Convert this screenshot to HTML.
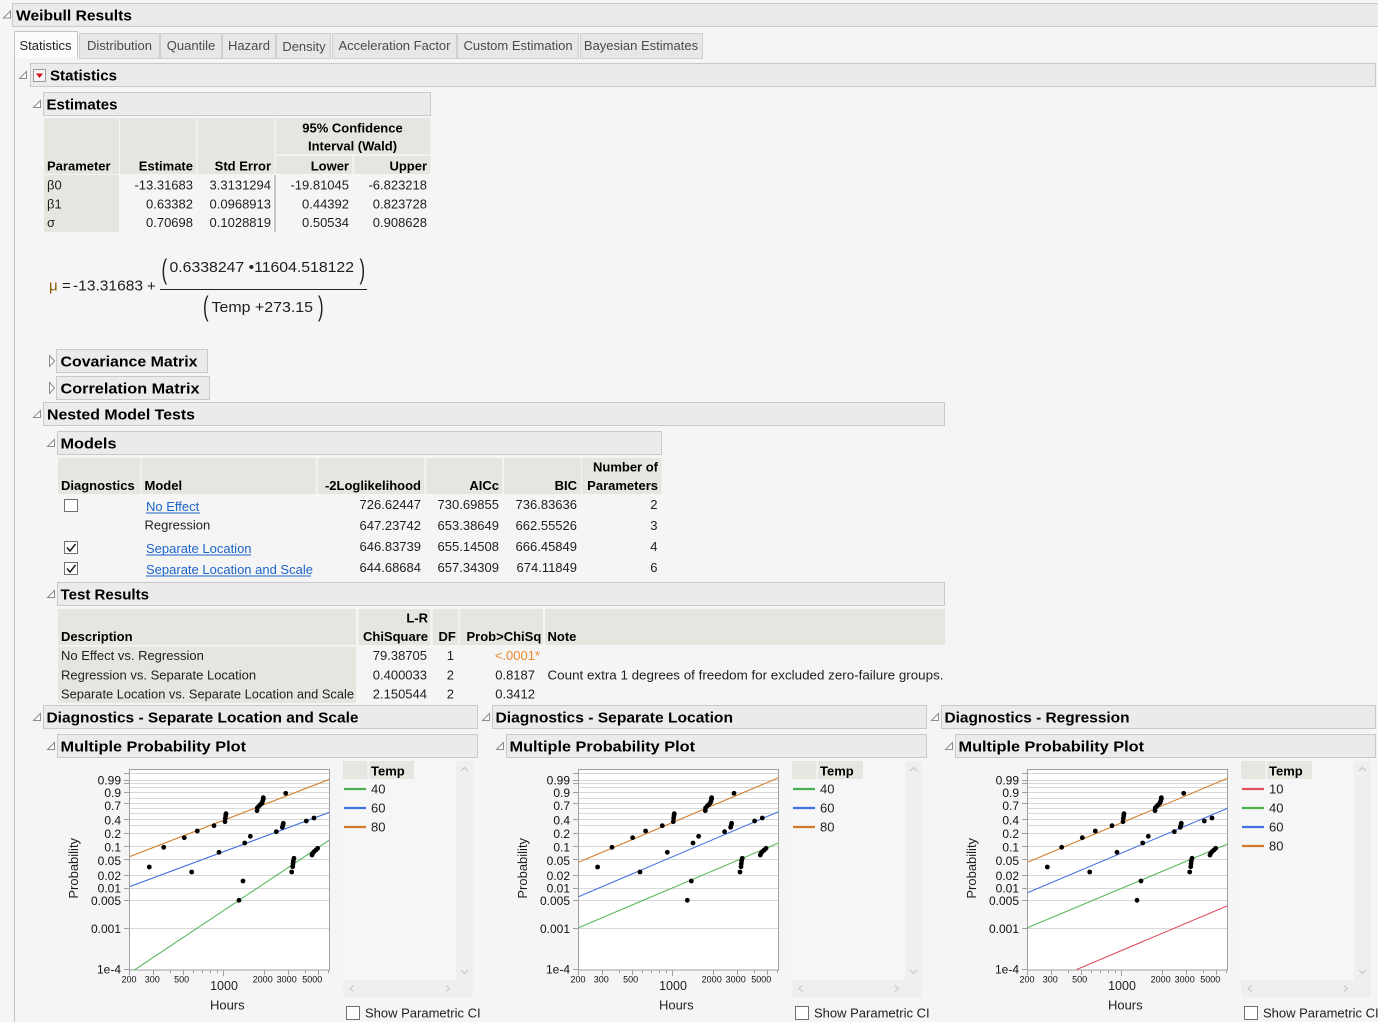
<!DOCTYPE html>
<html><head><meta charset="utf-8">
<style>
html,body{margin:0;padding:0;background:#f5f5f5;}
svg{display:block;}
text{font-family:"Liberation Sans",Arial,sans-serif;fill:#1e1e1e;}
.h{font-weight:bold;font-size:15px;fill:#000;}
.b{font-weight:bold;font-size:13px;fill:#000;}
.t{font-size:13px;}
.tab{font-size:13px;fill:#4a4a4a;text-anchor:middle;}
.e{text-anchor:end;}
.m{text-anchor:middle;}
.hdr{fill:#ebebeb;stroke:#c9c9c9;}
.th{fill:#e6e6e1;}
.tri{fill:#fff;stroke:#8c8c8c;}
.lnk{font-size:13px;fill:#1c64c8;}
.yl{font-size:12px;text-anchor:end;fill:#111;}
.xl{font-size:9px;text-anchor:middle;fill:#111;}
</style></head><body>
<svg width="1378" height="1022" viewBox="0 0 1378 1022" xmlns="http://www.w3.org/2000/svg">
<defs>
<clipPath id="c1"><rect x="130" y="770" width="199" height="200"/></clipPath>
<clipPath id="c2"><rect x="579" y="770" width="199" height="200"/></clipPath>
<clipPath id="c3"><rect x="1028" y="770" width="199" height="200"/></clipPath>
</defs>
<rect width="1378" height="1022" fill="#f5f5f5"/>

<!-- Weibull Results header -->
<rect class="hdr" x="12.5" y="3.5" width="1366" height="23"/>
<polygon class="tri" points="3.5,18 10.5,18 10.5,11"/>
<text class="h" x="16" y="20.5" textLength="116" lengthAdjust="spacingAndGlyphs">Weibull Results</text>

<!-- tabs -->
<line x1="14.5" y1="58" x2="14.5" y2="1022" stroke="#c4c4c4"/>
<rect x="79.5" y="33.5" width="80" height="25" fill="#e7e7e7" stroke="#cfcfcf"/>
<rect x="160.5" y="33.5" width="61" height="25" fill="#e7e7e7" stroke="#cfcfcf"/>
<rect x="222.5" y="33.5" width="53" height="25" fill="#e7e7e7" stroke="#cfcfcf"/>
<rect x="276.5" y="33.5" width="54" height="25" fill="#e7e7e7" stroke="#cfcfcf"/>
<rect x="332.5" y="33.5" width="124" height="25" fill="#e7e7e7" stroke="#cfcfcf"/>
<rect x="457.5" y="33.5" width="121" height="25" fill="#e7e7e7" stroke="#cfcfcf"/>
<rect x="580.5" y="33.5" width="122" height="25" fill="#e7e7e7" stroke="#cfcfcf"/>
<path d="M14.5,58.5 V31.5 H77.5 V58.5" fill="#fbfbfb" stroke="#c4c4c4"/>
<text class="tab" x="45.5" y="50" style="fill:#222">Statistics</text>
<text class="tab" x="119.5" y="50">Distribution</text>
<text class="tab" x="191" y="50">Quantile</text>
<text class="tab" x="249" y="50">Hazard</text>
<text class="tab" x="304" y="51">Density</text>
<text class="tab" x="394.5" y="50">Acceleration Factor</text>
<text class="tab" x="518" y="50">Custom Estimation</text>
<text class="tab" x="641" y="50">Bayesian Estimates</text>

<!-- Statistics -->
<rect class="hdr" x="30.5" y="63.5" width="1345" height="23"/>
<polygon class="tri" points="19.5,78.5 26.5,78.5 26.5,71.5"/>
<rect x="33.5" y="69.5" width="12" height="12" fill="#f6f6f6" stroke="#9a9a9a"/>
<polygon points="36,73.5 43,73.5 39.5,78" fill="#d0101a"/>
<text class="h" x="50" y="80.5" textLength="67" lengthAdjust="spacingAndGlyphs">Statistics</text>

<!-- Estimates -->
<rect class="hdr" x="43.5" y="92.5" width="387" height="23"/>
<polygon class="tri" points="33.5,107.5 40.5,107.5 40.5,100.5"/>
<text class="h" x="46.5" y="109.5" textLength="71" lengthAdjust="spacingAndGlyphs">Estimates</text>

<rect class="th" x="44" y="118" width="75" height="56"/>
<rect class="th" x="44" y="175" width="75" height="57"/>
<rect class="th" x="120" y="118" width="76.5" height="56"/>
<rect class="th" x="197.5" y="118" width="77" height="56"/>
<rect class="th" x="275.5" y="118" width="155" height="36.5"/>
<rect class="th" x="275.5" y="156" width="77" height="18"/>
<rect class="th" x="354" y="156" width="76.5" height="18"/>
<line x1="275" y1="175" x2="275" y2="232" stroke="#9a9a9a"/>
<text class="b" x="47" y="170.5">Parameter</text>
<text class="b e" x="193" y="170.5">Estimate</text>
<text class="b e" x="271" y="170.5">Std Error</text>
<text class="b m" x="352.5" y="132.5">95% Confidence</text>
<text class="b m" x="352.5" y="150.5">Interval (Wald)</text>
<text class="b e" x="349" y="170.5">Lower</text>
<text class="b e" x="427" y="170.5">Upper</text>
<g class="t">
<text x="47" y="189.5">β0</text><text x="47" y="208.5">β1</text><text x="47" y="227">σ</text>
<text class="e" x="193" y="189.5">-13.31683</text><text class="e" x="193" y="208.5">0.63382</text><text class="e" x="193" y="227">0.70698</text>
<text class="e" x="271" y="189.5">3.3131294</text><text class="e" x="271" y="208.5">0.0968913</text><text class="e" x="271" y="227">0.1028819</text>
<text class="e" x="349" y="189.5">-19.81045</text><text class="e" x="349" y="208.5">0.44392</text><text class="e" x="349" y="227">0.50534</text>
<text class="e" x="427" y="189.5">-6.823218</text><text class="e" x="427" y="208.5">0.823728</text><text class="e" x="427" y="227">0.908628</text>
</g>

<!-- Formula -->
<g style="font-size:15px">
<text x="49" y="290.5" style="font-size:15px;fill:#8a5a00">μ</text>
<text x="62" y="290.5" style="font-size:15px">=</text>
<text x="73" y="290.5" style="font-size:15px" textLength="70" lengthAdjust="spacingAndGlyphs">-13.31683</text>
<text x="147" y="291" style="font-size:15px">+</text>
<line x1="160" y1="289.5" x2="367" y2="289.5" stroke="#222"/>
<text transform="translate(161.5,278.5) scale(0.6,1)" style="font-size:28px">(</text>
<text x="169.5" y="272" style="font-size:15px" textLength="184.5" lengthAdjust="spacingAndGlyphs">0.6338247 •11604.518122</text>
<text transform="translate(359.5,278.5) scale(0.6,1)" style="font-size:28px">)</text>
<text transform="translate(203,315.5) scale(0.6,1)" style="font-size:28px">(</text>
<text x="211.5" y="312" style="font-size:15px" textLength="101.5" lengthAdjust="spacingAndGlyphs">Temp +273.15</text>
<text transform="translate(318,315.5) scale(0.6,1)" style="font-size:28px">)</text>
</g>

<!-- Covariance / Correlation -->
<rect class="hdr" x="56.5" y="349.5" width="151" height="23"/>
<polygon class="tri" points="49.5,355.5 54.5,361 49.5,366.5"/>
<text class="h" x="60.5" y="366.5" textLength="137" lengthAdjust="spacingAndGlyphs">Covariance Matrix</text>
<rect class="hdr" x="56.5" y="376.5" width="153" height="23"/>
<polygon class="tri" points="49.5,382.5 54.5,388 49.5,393.5"/>
<text class="h" x="60.5" y="393.5" textLength="139" lengthAdjust="spacingAndGlyphs">Correlation Matrix</text>

<!-- Nested Model Tests -->
<rect class="hdr" x="43.5" y="402.5" width="901" height="23"/>
<polygon class="tri" points="33.5,417.5 40.5,417.5 40.5,410.5"/>
<text class="h" x="47" y="419.5" textLength="148" lengthAdjust="spacingAndGlyphs">Nested Model Tests</text>

<!-- Models -->
<rect class="hdr" x="57.5" y="431.5" width="604" height="23"/>
<polygon class="tri" points="47.5,446.5 54.5,446.5 54.5,439.5"/>
<text class="h" x="60.5" y="448.5" textLength="56" lengthAdjust="spacingAndGlyphs">Models</text>
<rect class="th" x="58" y="458" width="82.5" height="36"/>
<rect class="th" x="141.5" y="458" width="174.5" height="36"/>
<rect class="th" x="317.5" y="458" width="107" height="36"/>
<rect class="th" x="426" y="458" width="76.5" height="36"/>
<rect class="th" x="504" y="458" width="77" height="36"/>
<rect class="th" x="582" y="458" width="79.5" height="36"/>
<text class="b" x="61" y="490">Diagnostics</text>
<text class="b" x="144.5" y="490">Model</text>
<text class="b e" x="421" y="490">-2Loglikelihood</text>
<text class="b e" x="499" y="490">AICc</text>
<text class="b e" x="577" y="490">BIC</text>
<text class="b e" x="658" y="471.5">Number of</text>
<text class="b e" x="658" y="490">Parameters</text>
<rect x="64.5" y="499.5" width="13" height="12" fill="#fff" stroke="#707070"/>
<rect x="64.5" y="541.5" width="13" height="12" fill="#fff" stroke="#707070"/>
<path d="M67,547.5 L70,551 L75.5,544" fill="none" stroke="#222" stroke-width="1.6"/>
<rect x="64.5" y="562.5" width="13" height="12" fill="#fff" stroke="#707070"/>
<path d="M67,568.5 L70,572 L75.5,565" fill="none" stroke="#222" stroke-width="1.6"/>
<text class="lnk" x="146" y="511">No Effect</text>
<line x1="146" y1="513" x2="200" y2="513" stroke="#1c64c8"/>
<text class="t" x="144.5" y="529.5">Regression</text>
<text class="lnk" x="146" y="553">Separate Location</text>
<line x1="146" y1="555" x2="251" y2="555" stroke="#1c64c8"/>
<text class="lnk" x="146" y="574">Separate Location and Scale</text>
<line x1="146" y1="576" x2="311" y2="576" stroke="#1c64c8"/>
<g class="t">
<text class="e" x="421" y="509">726.62447</text><text class="e" x="421" y="530">647.23742</text><text class="e" x="421" y="551">646.83739</text><text class="e" x="421" y="572">644.68684</text>
<text class="e" x="499" y="509">730.69855</text><text class="e" x="499" y="530">653.38649</text><text class="e" x="499" y="551">655.14508</text><text class="e" x="499" y="572">657.34309</text>
<text class="e" x="577" y="509">736.83636</text><text class="e" x="577" y="530">662.55526</text><text class="e" x="577" y="551">666.45849</text><text class="e" x="577" y="572">674.11849</text>
<text class="e" x="657.5" y="509">2</text><text class="e" x="657.5" y="530">3</text><text class="e" x="657.5" y="551">4</text><text class="e" x="657.5" y="572">6</text>
</g>

<!-- Test Results -->
<rect class="hdr" x="57.5" y="582.5" width="887" height="23"/>
<polygon class="tri" points="47.5,597.5 54.5,597.5 54.5,590.5"/>
<text class="h" x="60.5" y="599.5" textLength="88.5" lengthAdjust="spacingAndGlyphs">Test Results</text>
<rect class="th" x="58" y="609" width="298" height="36"/>
<rect class="th" x="58" y="646.5" width="298" height="56.5"/>
<rect class="th" x="358.5" y="609" width="72" height="36"/>
<rect class="th" x="432.5" y="609" width="26" height="36"/>
<rect class="th" x="460" y="609" width="83" height="36"/>
<rect class="th" x="545" y="609" width="400" height="36"/>
<text class="b" x="61" y="641">Description</text>
<text class="b e" x="428" y="622.5">L-R</text>
<text class="b e" x="428" y="641">ChiSquare</text>
<text class="b" x="438.5" y="641">DF</text>
<text class="b" x="466.5" y="641">Prob&gt;ChiSq</text>
<text class="b" x="547.5" y="641">Note</text>
<g class="t">
<text x="61" y="660">No Effect vs. Regression</text>
<text x="61" y="679.5">Regression vs. Separate Location</text>
<text x="61" y="698.5" textLength="293" lengthAdjust="spacingAndGlyphs">Separate Location vs. Separate Location and Scale</text>
<text class="e" x="427" y="660">79.38705</text><text class="e" x="427" y="679.5">0.400033</text><text class="e" x="427" y="698.5">2.150544</text>
<text class="e" x="454" y="660">1</text><text class="e" x="454" y="679.5">2</text><text class="e" x="454" y="698.5">2</text>
<text class="e" x="540" y="660" style="fill:#ee8a2e">&lt;.0001*</text>
<text class="e" x="535" y="679.5">0.8187</text><text class="e" x="535" y="698.5">0.3412</text>
<text x="547.5" y="679.5" textLength="396" lengthAdjust="spacingAndGlyphs">Count extra 1 degrees of freedom for excluded zero-failure groups.</text>
</g>

<!-- Diagnostics headers -->
<rect class="hdr" x="43.5" y="705.5" width="434" height="23"/>
<polygon class="tri" points="33.5,720.5 40.5,720.5 40.5,713.5"/>
<text class="h" x="46.5" y="722.5" textLength="312" lengthAdjust="spacingAndGlyphs">Diagnostics - Separate Location and Scale</text>
<rect class="hdr" x="492.5" y="705.5" width="434" height="23"/>
<polygon class="tri" points="482.5,720.5 489.5,720.5 489.5,713.5"/>
<text class="h" x="495.5" y="722.5" textLength="237.5" lengthAdjust="spacingAndGlyphs">Diagnostics - Separate Location</text>
<rect class="hdr" x="941.5" y="705.5" width="434" height="23"/>
<polygon class="tri" points="931.5,720.5 938.5,720.5 938.5,713.5"/>
<text class="h" x="944.5" y="722.5" textLength="185" lengthAdjust="spacingAndGlyphs">Diagnostics - Regression</text>

<rect class="hdr" x="57.5" y="734.5" width="420" height="23"/>
<polygon class="tri" points="47.5,749.5 54.5,749.5 54.5,742.5"/>
<text class="h" x="60.5" y="751.5" textLength="185.5" lengthAdjust="spacingAndGlyphs">Multiple Probability Plot</text>
<rect class="hdr" x="506.5" y="734.5" width="420" height="23"/>
<polygon class="tri" points="496.5,749.5 503.5,749.5 503.5,742.5"/>
<text class="h" x="509.5" y="751.5" textLength="185.5" lengthAdjust="spacingAndGlyphs">Multiple Probability Plot</text>
<rect class="hdr" x="955.5" y="734.5" width="420" height="23"/>
<polygon class="tri" points="945.5,749.5 952.5,749.5 952.5,742.5"/>
<text class="h" x="958.5" y="751.5" textLength="185.5" lengthAdjust="spacingAndGlyphs">Multiple Probability Plot</text>

<!-- ========== PLOT 1 ========== -->
<g>
<rect x="129.5" y="769.5" width="200" height="200.5" fill="#fff"/>
<g stroke="#d8d8d8">
<line x1="130" x2="329" y1="773.5" y2="773.5"/><line x1="130" x2="329" y1="780.5" y2="780.5"/><line x1="130" x2="329" y1="783.5" y2="783.5"/><line x1="130" x2="329" y1="787.5" y2="787.5"/><line x1="130" x2="329" y1="792.5" y2="792.5"/><line x1="130" x2="329" y1="798.5" y2="798.5"/><line x1="130" x2="329" y1="803.5" y2="803.5"/><line x1="130" x2="329" y1="808.5" y2="808.5"/><line x1="130" x2="329" y1="813.5" y2="813.5"/><line x1="130" x2="329" y1="819.5" y2="819.5"/><line x1="130" x2="329" y1="825.5" y2="825.5"/><line x1="130" x2="329" y1="833.5" y2="833.5"/><line x1="130" x2="329" y1="846.5" y2="846.5"/><line x1="130" x2="329" y1="859.5" y2="859.5"/><line x1="130" x2="329" y1="875.5" y2="875.5"/><line x1="130" x2="329" y1="888.5" y2="888.5"/><line x1="130" x2="329" y1="900.5" y2="900.5"/><line x1="130" x2="329" y1="928.5" y2="928.5"/>
</g>
<g stroke="#a0a0a0">
<line x1="124" x2="129.5" y1="773.5" y2="773.5"/><line x1="124" x2="129.5" y1="780.5" y2="780.5"/><line x1="124" x2="129.5" y1="783.5" y2="783.5"/><line x1="124" x2="129.5" y1="792.5" y2="792.5"/><line x1="124" x2="129.5" y1="803.5" y2="803.5"/><line x1="124" x2="129.5" y1="819.5" y2="819.5"/><line x1="124" x2="129.5" y1="833.5" y2="833.5"/><line x1="124" x2="129.5" y1="846.5" y2="846.5"/><line x1="124" x2="129.5" y1="859.5" y2="859.5"/><line x1="124" x2="129.5" y1="875.5" y2="875.5"/><line x1="124" x2="129.5" y1="888.5" y2="888.5"/><line x1="124" x2="129.5" y1="900.5" y2="900.5"/><line x1="124" x2="129.5" y1="928.5" y2="928.5"/><line x1="124" x2="129.5" y1="969.5" y2="969.5"/>
<line x1="129.5" x2="129.5" y1="970" y2="975"/><line x1="153.5" x2="153.5" y1="970" y2="975"/><line x1="170.5" x2="170.5" y1="970" y2="973"/><line x1="183.5" x2="183.5" y1="970" y2="975"/><line x1="193.5" x2="193.5" y1="970" y2="973"/><line x1="202.5" x2="202.5" y1="970" y2="973"/><line x1="210.5" x2="210.5" y1="970" y2="973"/><line x1="217.5" x2="217.5" y1="970" y2="973"/><line x1="223.5" x2="223.5" y1="970" y2="976"/><line x1="264.5" x2="264.5" y1="970" y2="975"/><line x1="288.5" x2="288.5" y1="970" y2="975"/><line x1="305.5" x2="305.5" y1="970" y2="973"/><line x1="318.5" x2="318.5" y1="970" y2="975"/><line x1="328.5" x2="328.5" y1="970" y2="973"/>
</g>
<rect x="129.5" y="769.5" width="200" height="200.5" fill="none" stroke="#a0a0a0"/>
<g clip-path="url(#c1)" stroke-width="1.1">
<line x1="129.5" y1="856.7" x2="329.5" y2="779.3" stroke="#d5812f"/>
<line x1="129.5" y1="886.7" x2="329.5" y2="812.3" stroke="#4a72e0"/>
<line x1="129.5" y1="973.2" x2="329.5" y2="840" stroke="#5cb85c"/>
</g>
<g id="pts" fill="#000">
<circle cx="149.3" cy="867" r="2.4"/><circle cx="163.7" cy="847.3" r="2.4"/><circle cx="184.3" cy="837.7" r="2.4"/><circle cx="197.3" cy="831" r="2.4"/><circle cx="214" cy="825.7" r="2.4"/><circle cx="225" cy="821.7" r="2.4"/><circle cx="225.3" cy="818.3" r="2.4"/><circle cx="225.7" cy="815.7" r="2.4"/><circle cx="226" cy="813.7" r="2.4"/><circle cx="257" cy="810.7" r="2.4"/><circle cx="257.3" cy="808" r="2.4"/><circle cx="258.7" cy="806.3" r="2.4"/><circle cx="260.3" cy="804.7" r="2.4"/><circle cx="262" cy="803" r="2.4"/><circle cx="262.7" cy="801" r="2.4"/><circle cx="263.3" cy="799" r="2.4"/><circle cx="263.3" cy="797.7" r="2.4"/><circle cx="285.7" cy="793.3" r="2.4"/>
<circle cx="191.7" cy="872" r="2.4"/><circle cx="219" cy="852.3" r="2.4"/><circle cx="244.7" cy="843" r="2.4"/><circle cx="250.3" cy="836.3" r="2.4"/><circle cx="276.3" cy="831.7" r="2.4"/><circle cx="282.3" cy="827.3" r="2.4"/><circle cx="283" cy="825" r="2.4"/><circle cx="283.3" cy="823.3" r="2.4"/><circle cx="306.3" cy="821" r="2.4"/><circle cx="314" cy="818" r="2.4"/>
<circle cx="239" cy="900.3" r="2.4"/><circle cx="243" cy="881" r="2.4"/><circle cx="291.7" cy="872" r="2.4"/><circle cx="292.7" cy="866.7" r="2.4"/><circle cx="293" cy="863.7" r="2.4"/><circle cx="293.3" cy="861" r="2.4"/><circle cx="294" cy="858.3" r="2.4"/><circle cx="312" cy="855" r="2.4"/><circle cx="312.7" cy="853.3" r="2.4"/><circle cx="314" cy="851.7" r="2.4"/><circle cx="316" cy="850" r="2.4"/><circle cx="317.7" cy="848.3" r="2.4"/>
</g>
<text class="yl" x="121" y="784.5">0.99</text><text class="yl" x="121" y="797">0.9</text><text class="yl" x="121" y="810">0.7</text><text class="yl" x="121" y="824.5">0.4</text><text class="yl" x="121" y="838">0.2</text><text class="yl" x="121" y="851.5">0.1</text><text class="yl" x="121" y="865">0.05</text><text class="yl" x="121" y="880">0.02</text><text class="yl" x="121" y="892.5">0.01</text><text class="yl" x="121" y="905">0.005</text><text class="yl" x="121" y="933">0.001</text><text class="yl" x="121" y="973.5">1e-4</text>
<text class="xl" x="129" y="982.5">200</text><text class="xl" x="152.3" y="982.5">300</text><text class="xl" x="181.7" y="982.5">500</text><text class="xl" x="262.7" y="982.5">2000</text><text class="xl" x="286.7" y="982.5">3000</text><text class="xl" x="312.3" y="982.5">5000</text>
<text class="m" x="224" y="990" style="font-size:12.5px">1000</text>
<text class="m t" x="227.3" y="1009.5">Hours</text>
<text class="m t" transform="translate(77.8,868.3) rotate(-90)">Probability</text>
<!-- legend -->
<rect x="342.5" y="760.5" width="131" height="236.5" fill="#f6f6f6"/>
<rect x="456" y="761" width="17" height="219" fill="#efefef"/>
<rect x="343" y="980" width="130" height="17" fill="#efefef"/>
<path d="M461,771 L464.5,767.5 L468,771 M461,970 L464.5,973.5 L468,970 M353.5,985.5 L350,988.5 L353.5,991.5 M446,985.5 L449.5,988.5 L446,991.5" fill="none" stroke="#c4c4c4"/>
<rect class="th" x="343" y="761" width="24.5" height="18"/>
<rect class="th" x="369" y="761" width="45" height="18"/>
<text class="b" x="371" y="775.5">Temp</text>
<line x1="344" y1="789" x2="366" y2="789" stroke="#4caf50" stroke-width="2.2"/>
<line x1="344" y1="808" x2="366" y2="808" stroke="#3f6fe0" stroke-width="2.2"/>
<line x1="344" y1="827" x2="366" y2="827" stroke="#d27a2a" stroke-width="2.2"/>
<text class="t" x="371" y="793.5">40</text><text class="t" x="371" y="812.5">60</text><text class="t" x="371" y="831.5">80</text>
<rect x="346.5" y="1006.5" width="13" height="13" fill="#fff" stroke="#707070"/>
<text class="t" x="365" y="1017.5">Show Parametric CI</text>
</g>

<!-- ========== PLOT 2 ========== -->
<g transform="translate(449,0)">
<rect x="129.5" y="769.5" width="200" height="200.5" fill="#fff"/>
<g stroke="#d8d8d8">
<line x1="130" x2="329" y1="773.5" y2="773.5"/><line x1="130" x2="329" y1="780.5" y2="780.5"/><line x1="130" x2="329" y1="783.5" y2="783.5"/><line x1="130" x2="329" y1="787.5" y2="787.5"/><line x1="130" x2="329" y1="792.5" y2="792.5"/><line x1="130" x2="329" y1="798.5" y2="798.5"/><line x1="130" x2="329" y1="803.5" y2="803.5"/><line x1="130" x2="329" y1="808.5" y2="808.5"/><line x1="130" x2="329" y1="813.5" y2="813.5"/><line x1="130" x2="329" y1="819.5" y2="819.5"/><line x1="130" x2="329" y1="825.5" y2="825.5"/><line x1="130" x2="329" y1="833.5" y2="833.5"/><line x1="130" x2="329" y1="846.5" y2="846.5"/><line x1="130" x2="329" y1="859.5" y2="859.5"/><line x1="130" x2="329" y1="875.5" y2="875.5"/><line x1="130" x2="329" y1="888.5" y2="888.5"/><line x1="130" x2="329" y1="900.5" y2="900.5"/><line x1="130" x2="329" y1="928.5" y2="928.5"/>
</g>
<g stroke="#a0a0a0">
<line x1="124" x2="129.5" y1="773.5" y2="773.5"/><line x1="124" x2="129.5" y1="780.5" y2="780.5"/><line x1="124" x2="129.5" y1="783.5" y2="783.5"/><line x1="124" x2="129.5" y1="792.5" y2="792.5"/><line x1="124" x2="129.5" y1="803.5" y2="803.5"/><line x1="124" x2="129.5" y1="819.5" y2="819.5"/><line x1="124" x2="129.5" y1="833.5" y2="833.5"/><line x1="124" x2="129.5" y1="846.5" y2="846.5"/><line x1="124" x2="129.5" y1="859.5" y2="859.5"/><line x1="124" x2="129.5" y1="875.5" y2="875.5"/><line x1="124" x2="129.5" y1="888.5" y2="888.5"/><line x1="124" x2="129.5" y1="900.5" y2="900.5"/><line x1="124" x2="129.5" y1="928.5" y2="928.5"/><line x1="124" x2="129.5" y1="969.5" y2="969.5"/>
<line x1="129.5" x2="129.5" y1="970" y2="975"/><line x1="153.5" x2="153.5" y1="970" y2="975"/><line x1="170.5" x2="170.5" y1="970" y2="973"/><line x1="183.5" x2="183.5" y1="970" y2="975"/><line x1="193.5" x2="193.5" y1="970" y2="973"/><line x1="202.5" x2="202.5" y1="970" y2="973"/><line x1="210.5" x2="210.5" y1="970" y2="973"/><line x1="217.5" x2="217.5" y1="970" y2="973"/><line x1="223.5" x2="223.5" y1="970" y2="976"/><line x1="264.5" x2="264.5" y1="970" y2="975"/><line x1="288.5" x2="288.5" y1="970" y2="975"/><line x1="305.5" x2="305.5" y1="970" y2="973"/><line x1="318.5" x2="318.5" y1="970" y2="975"/><line x1="328.5" x2="328.5" y1="970" y2="973"/>
</g>
<rect x="129.5" y="769.5" width="200" height="200.5" fill="none" stroke="#a0a0a0"/>
<g stroke-width="1.1">
<line x1="129.5" y1="862.3" x2="329.5" y2="777.7" stroke="#d5812f"/>
<line x1="129.5" y1="896.7" x2="329.5" y2="811.7" stroke="#4a72e0"/>
<line x1="129.5" y1="927.7" x2="329.5" y2="843" stroke="#5cb85c"/>
</g>
<g transform="translate(-0.7,0)" fill="#000">
<circle cx="149.3" cy="867" r="2.4"/><circle cx="163.7" cy="847.3" r="2.4"/><circle cx="184.3" cy="837.7" r="2.4"/><circle cx="197.3" cy="831" r="2.4"/><circle cx="214" cy="825.7" r="2.4"/><circle cx="225" cy="821.7" r="2.4"/><circle cx="225.3" cy="818.3" r="2.4"/><circle cx="225.7" cy="815.7" r="2.4"/><circle cx="226" cy="813.7" r="2.4"/><circle cx="257" cy="810.7" r="2.4"/><circle cx="257.3" cy="808" r="2.4"/><circle cx="258.7" cy="806.3" r="2.4"/><circle cx="260.3" cy="804.7" r="2.4"/><circle cx="262" cy="803" r="2.4"/><circle cx="262.7" cy="801" r="2.4"/><circle cx="263.3" cy="799" r="2.4"/><circle cx="263.3" cy="797.7" r="2.4"/><circle cx="285.7" cy="793.3" r="2.4"/>
<circle cx="191.7" cy="872" r="2.4"/><circle cx="219" cy="852.3" r="2.4"/><circle cx="244.7" cy="843" r="2.4"/><circle cx="250.3" cy="836.3" r="2.4"/><circle cx="276.3" cy="831.7" r="2.4"/><circle cx="282.3" cy="827.3" r="2.4"/><circle cx="283" cy="825" r="2.4"/><circle cx="283.3" cy="823.3" r="2.4"/><circle cx="306.3" cy="821" r="2.4"/><circle cx="314" cy="818" r="2.4"/>
<circle cx="239" cy="900.3" r="2.4"/><circle cx="243" cy="881" r="2.4"/><circle cx="291.7" cy="872" r="2.4"/><circle cx="292.7" cy="866.7" r="2.4"/><circle cx="293" cy="863.7" r="2.4"/><circle cx="293.3" cy="861" r="2.4"/><circle cx="294" cy="858.3" r="2.4"/><circle cx="312" cy="855" r="2.4"/><circle cx="312.7" cy="853.3" r="2.4"/><circle cx="314" cy="851.7" r="2.4"/><circle cx="316" cy="850" r="2.4"/><circle cx="317.7" cy="848.3" r="2.4"/>
</g>
<text class="yl" x="121" y="784.5">0.99</text><text class="yl" x="121" y="797">0.9</text><text class="yl" x="121" y="810">0.7</text><text class="yl" x="121" y="824.5">0.4</text><text class="yl" x="121" y="838">0.2</text><text class="yl" x="121" y="851.5">0.1</text><text class="yl" x="121" y="865">0.05</text><text class="yl" x="121" y="880">0.02</text><text class="yl" x="121" y="892.5">0.01</text><text class="yl" x="121" y="905">0.005</text><text class="yl" x="121" y="933">0.001</text><text class="yl" x="121" y="973.5">1e-4</text>
<text class="xl" x="129" y="982.5">200</text><text class="xl" x="152.3" y="982.5">300</text><text class="xl" x="181.7" y="982.5">500</text><text class="xl" x="262.7" y="982.5">2000</text><text class="xl" x="286.7" y="982.5">3000</text><text class="xl" x="312.3" y="982.5">5000</text>
<text class="m" x="224" y="990" style="font-size:12.5px">1000</text>
<text class="m t" x="227.3" y="1009.5">Hours</text>
<text class="m t" transform="translate(77.8,868.3) rotate(-90)">Probability</text>
<rect x="342.5" y="760.5" width="131" height="236.5" fill="#f6f6f6"/>
<rect x="456" y="761" width="17" height="219" fill="#efefef"/>
<rect x="343" y="980" width="130" height="17" fill="#efefef"/>
<path d="M461,771 L464.5,767.5 L468,771 M461,970 L464.5,973.5 L468,970 M353.5,985.5 L350,988.5 L353.5,991.5 M446,985.5 L449.5,988.5 L446,991.5" fill="none" stroke="#c4c4c4"/>
<rect class="th" x="343" y="761" width="24.5" height="18"/>
<rect class="th" x="369" y="761" width="45" height="18"/>
<text class="b" x="371" y="775.5">Temp</text>
<line x1="344" y1="789" x2="366" y2="789" stroke="#4caf50" stroke-width="2.2"/>
<line x1="344" y1="808" x2="366" y2="808" stroke="#3f6fe0" stroke-width="2.2"/>
<line x1="344" y1="827" x2="366" y2="827" stroke="#d27a2a" stroke-width="2.2"/>
<text class="t" x="371" y="793.5">40</text><text class="t" x="371" y="812.5">60</text><text class="t" x="371" y="831.5">80</text>
<rect x="346.5" y="1006.5" width="13" height="13" fill="#fff" stroke="#707070"/>
<text class="t" x="365" y="1017.5">Show Parametric CI</text>
</g>

<!-- ========== PLOT 3 ========== -->
<g transform="translate(898,0)">
<rect x="129.5" y="769.5" width="200" height="200.5" fill="#fff"/>
<g stroke="#d8d8d8">
<line x1="130" x2="329" y1="773.5" y2="773.5"/><line x1="130" x2="329" y1="780.5" y2="780.5"/><line x1="130" x2="329" y1="783.5" y2="783.5"/><line x1="130" x2="329" y1="787.5" y2="787.5"/><line x1="130" x2="329" y1="792.5" y2="792.5"/><line x1="130" x2="329" y1="798.5" y2="798.5"/><line x1="130" x2="329" y1="803.5" y2="803.5"/><line x1="130" x2="329" y1="808.5" y2="808.5"/><line x1="130" x2="329" y1="813.5" y2="813.5"/><line x1="130" x2="329" y1="819.5" y2="819.5"/><line x1="130" x2="329" y1="825.5" y2="825.5"/><line x1="130" x2="329" y1="833.5" y2="833.5"/><line x1="130" x2="329" y1="846.5" y2="846.5"/><line x1="130" x2="329" y1="859.5" y2="859.5"/><line x1="130" x2="329" y1="875.5" y2="875.5"/><line x1="130" x2="329" y1="888.5" y2="888.5"/><line x1="130" x2="329" y1="900.5" y2="900.5"/><line x1="130" x2="329" y1="928.5" y2="928.5"/>
</g>
<g stroke="#a0a0a0">
<line x1="124" x2="129.5" y1="773.5" y2="773.5"/><line x1="124" x2="129.5" y1="780.5" y2="780.5"/><line x1="124" x2="129.5" y1="783.5" y2="783.5"/><line x1="124" x2="129.5" y1="792.5" y2="792.5"/><line x1="124" x2="129.5" y1="803.5" y2="803.5"/><line x1="124" x2="129.5" y1="819.5" y2="819.5"/><line x1="124" x2="129.5" y1="833.5" y2="833.5"/><line x1="124" x2="129.5" y1="846.5" y2="846.5"/><line x1="124" x2="129.5" y1="859.5" y2="859.5"/><line x1="124" x2="129.5" y1="875.5" y2="875.5"/><line x1="124" x2="129.5" y1="888.5" y2="888.5"/><line x1="124" x2="129.5" y1="900.5" y2="900.5"/><line x1="124" x2="129.5" y1="928.5" y2="928.5"/><line x1="124" x2="129.5" y1="969.5" y2="969.5"/>
<line x1="129.5" x2="129.5" y1="970" y2="975"/><line x1="153.5" x2="153.5" y1="970" y2="975"/><line x1="170.5" x2="170.5" y1="970" y2="973"/><line x1="183.5" x2="183.5" y1="970" y2="975"/><line x1="193.5" x2="193.5" y1="970" y2="973"/><line x1="202.5" x2="202.5" y1="970" y2="973"/><line x1="210.5" x2="210.5" y1="970" y2="973"/><line x1="217.5" x2="217.5" y1="970" y2="973"/><line x1="223.5" x2="223.5" y1="970" y2="976"/><line x1="264.5" x2="264.5" y1="970" y2="975"/><line x1="288.5" x2="288.5" y1="970" y2="975"/><line x1="305.5" x2="305.5" y1="970" y2="973"/><line x1="318.5" x2="318.5" y1="970" y2="975"/><line x1="328.5" x2="328.5" y1="970" y2="973"/>
</g>
<rect x="129.5" y="769.5" width="200" height="200.5" fill="none" stroke="#a0a0a0"/>
<g stroke-width="1.1">
<line x1="129.5" y1="862.3" x2="329.5" y2="778.3" stroke="#d5812f"/>
<line x1="129.5" y1="892.7" x2="329.5" y2="808.3" stroke="#4a72e0"/>
<line x1="129.5" y1="927.7" x2="329.5" y2="844" stroke="#5cb85c"/>
<line x1="178.7" y1="969.5" x2="329.5" y2="905.7" stroke="#e0505f"/>
</g>
<g fill="#000">
<circle cx="149.3" cy="867" r="2.4"/><circle cx="163.7" cy="847.3" r="2.4"/><circle cx="184.3" cy="837.7" r="2.4"/><circle cx="197.3" cy="831" r="2.4"/><circle cx="214" cy="825.7" r="2.4"/><circle cx="225" cy="821.7" r="2.4"/><circle cx="225.3" cy="818.3" r="2.4"/><circle cx="225.7" cy="815.7" r="2.4"/><circle cx="226" cy="813.7" r="2.4"/><circle cx="257" cy="810.7" r="2.4"/><circle cx="257.3" cy="808" r="2.4"/><circle cx="258.7" cy="806.3" r="2.4"/><circle cx="260.3" cy="804.7" r="2.4"/><circle cx="262" cy="803" r="2.4"/><circle cx="262.7" cy="801" r="2.4"/><circle cx="263.3" cy="799" r="2.4"/><circle cx="263.3" cy="797.7" r="2.4"/><circle cx="285.7" cy="793.3" r="2.4"/>
<circle cx="191.7" cy="872" r="2.4"/><circle cx="219" cy="852.3" r="2.4"/><circle cx="244.7" cy="843" r="2.4"/><circle cx="250.3" cy="836.3" r="2.4"/><circle cx="276.3" cy="831.7" r="2.4"/><circle cx="282.3" cy="827.3" r="2.4"/><circle cx="283" cy="825" r="2.4"/><circle cx="283.3" cy="823.3" r="2.4"/><circle cx="306.3" cy="821" r="2.4"/><circle cx="314" cy="818" r="2.4"/>
<circle cx="239" cy="900.3" r="2.4"/><circle cx="243" cy="881" r="2.4"/><circle cx="291.7" cy="872" r="2.4"/><circle cx="292.7" cy="866.7" r="2.4"/><circle cx="293" cy="863.7" r="2.4"/><circle cx="293.3" cy="861" r="2.4"/><circle cx="294" cy="858.3" r="2.4"/><circle cx="312" cy="855" r="2.4"/><circle cx="312.7" cy="853.3" r="2.4"/><circle cx="314" cy="851.7" r="2.4"/><circle cx="316" cy="850" r="2.4"/><circle cx="317.7" cy="848.3" r="2.4"/>
</g>
<text class="yl" x="121" y="784.5">0.99</text><text class="yl" x="121" y="797">0.9</text><text class="yl" x="121" y="810">0.7</text><text class="yl" x="121" y="824.5">0.4</text><text class="yl" x="121" y="838">0.2</text><text class="yl" x="121" y="851.5">0.1</text><text class="yl" x="121" y="865">0.05</text><text class="yl" x="121" y="880">0.02</text><text class="yl" x="121" y="892.5">0.01</text><text class="yl" x="121" y="905">0.005</text><text class="yl" x="121" y="933">0.001</text><text class="yl" x="121" y="973.5">1e-4</text>
<text class="xl" x="129" y="982.5">200</text><text class="xl" x="152.3" y="982.5">300</text><text class="xl" x="181.7" y="982.5">500</text><text class="xl" x="262.7" y="982.5">2000</text><text class="xl" x="286.7" y="982.5">3000</text><text class="xl" x="312.3" y="982.5">5000</text>
<text class="m" x="224" y="990" style="font-size:12.5px">1000</text>
<text class="m t" x="227.3" y="1009.5">Hours</text>
<text class="m t" transform="translate(77.8,868.3) rotate(-90)">Probability</text>
<rect x="342.5" y="760.5" width="131" height="236.5" fill="#f6f6f6"/>
<rect x="456" y="761" width="17" height="219" fill="#efefef"/>
<rect x="343" y="980" width="130" height="17" fill="#efefef"/>
<path d="M461,771 L464.5,767.5 L468,771 M461,970 L464.5,973.5 L468,970 M353.5,985.5 L350,988.5 L353.5,991.5 M446,985.5 L449.5,988.5 L446,991.5" fill="none" stroke="#c4c4c4"/>
<rect class="th" x="343" y="761" width="24.5" height="18"/>
<rect class="th" x="369" y="761" width="45" height="18"/>
<text class="b" x="371" y="775.5">Temp</text>
<line x1="344" y1="789" x2="366" y2="789" stroke="#e0505f" stroke-width="2.2"/>
<line x1="344" y1="808" x2="366" y2="808" stroke="#4caf50" stroke-width="2.2"/>
<line x1="344" y1="827" x2="366" y2="827" stroke="#3f6fe0" stroke-width="2.2"/>
<line x1="344" y1="846" x2="366" y2="846" stroke="#d27a2a" stroke-width="2.2"/>
<text class="t" x="371" y="793.5">10</text><text class="t" x="371" y="812.5">40</text><text class="t" x="371" y="831.5">60</text><text class="t" x="371" y="850.5">80</text>
<rect x="346.5" y="1006.5" width="13" height="13" fill="#fff" stroke="#707070"/>
<text class="t" x="365" y="1017.5">Show Parametric CI</text>
</g>
</svg>
</body></html>
